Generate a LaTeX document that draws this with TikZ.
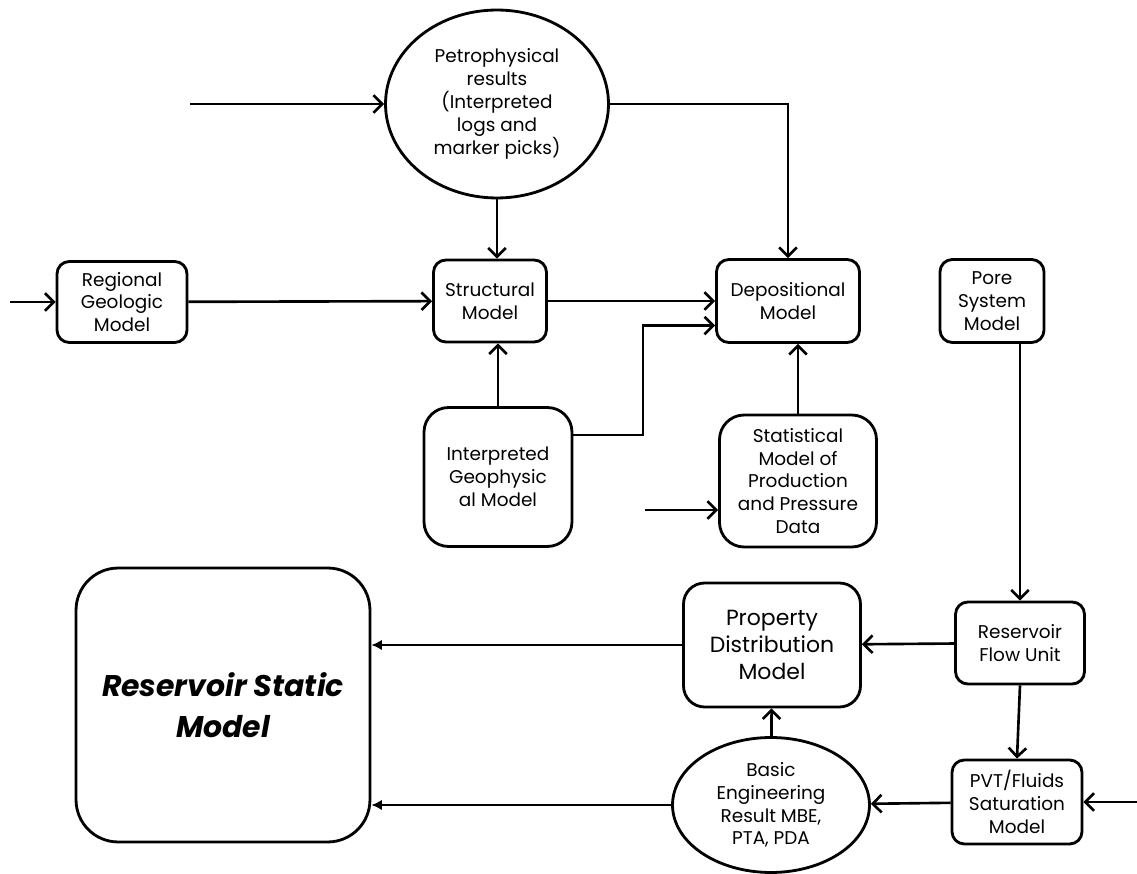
\documentclass[tikz,border=0pt]{standalone}
\usepackage{fontspec}
\setmainfont{Poppins}
\usepackage{tikz}
\usetikzlibrary{arrows.meta,positioning,calc,shapes.geometric}
\tikzset{
  box/.style={draw, rounded corners=7pt, line width=1.6pt, align=center, inner sep=0pt, font=\fontsize{10.5}{13}\selectfont},
  oval/.style={draw, ellipse, line width=1.6pt, align=center, inner sep=0pt, font=\fontsize{10.5}{13}\selectfont},
  line/.style={-{Straight Barb[length=5pt,width=10pt,line width=1.5pt]}, line width=1.5pt},
  fline/.style={-{Latex[length=6pt,width=6pt]}, line width=1.5pt}
}

\begin{document}
\begin{tikzpicture}[x=0.02cm, y=-0.02cm]
  \useasboundingbox (0,0) rectangle (1137,874);
  \node[oval, minimum width=4.46cm, minimum height=3.76cm] (petro) at (497,104) {Petrophysical\\results\\(Interpreted\\logs and\\marker picks)};
  \node[box, minimum width=2.6cm, minimum height=1.62cm] (reg) at (122,302) {Regional\\Geologic\\Model};
  \node[box, minimum width=2.26cm, minimum height=1.64cm] (struct) at (490,301) {Structural\\Model};
  \node[box, minimum width=2.86cm, minimum height=1.66cm] (dep) at (788,301) {Depositional\\Model};
  \node[box, minimum width=2.08cm, minimum height=1.66cm] (pore) at (992,301) {Pore\\System\\Model};
  \node[box, minimum width=2.96cm, minimum height=2.78cm, rounded corners=14pt] (geo) at (498,477) {Interpreted\\Geophysic\\al Model};
  \node[box, minimum width=3.14cm, minimum height=2.64cm, rounded corners=14pt] (stat) at (798,481) {Statistical\\Model of\\Production\\and Pressure\\Data};
  \node[box, minimum width=5.88cm, minimum height=5.48cm, rounded corners=24pt, font=\fontsize{17}{23}\selectfont\bfseries\itshape] (static) at (223,705) {Reservoir Static\\Model};
  \node[box, minimum width=3.54cm, minimum height=2.48cm, rounded corners=12pt, font=\fontsize{12.5}{15.5}\selectfont] (prop) at (772,645) {Property\\Distribution\\Model};
  \node[box, minimum width=2.58cm, minimum height=1.64cm] (flow) at (1020,643) {Reservoir\\Flow Unit};
  \node[oval, minimum width=3.94cm, minimum height=2.7cm] (basic) at (771,805) {Basic\\Engineering\\Result MBE,\\PTA, PDA};
  \node[box, minimum width=2.6cm, minimum height=1.68cm] (pvt) at (1017,802) {PVT/Fluids\\Saturation\\Model};
  % free ends and bends
  \coordinate (inPetro) at (190,104);
  \coordinate (inReg) at (10,302);
  \coordinate (inStat) at (645,510);
  \coordinate (inPVT) at (1137,802);
  \coordinate (bendGeo) at (643,435);
  \draw[line] (inPetro) -- (petro.west);
  \draw[line] (petro.east) -| (dep.north);
  \draw[line] (petro.south) -- (petro.south |- struct.north);
  \draw[line] (inReg) -- (reg.west);
  \draw[line] (reg) -- (struct);
  \draw[line] (struct) -- (dep);
  \draw[line] (geo.north) -- (geo.north |- struct.south);
  \draw[line] (geo.east |- bendGeo) -- (bendGeo) |- ([yshift=-14pt]dep.west);
  \draw[line] (stat.north) -- (stat.north |- dep.south);
  \draw[line] (inStat) -- (inStat -| stat.west);
  \draw[line] (flow.north |- pore.south) -- (flow.north);
  \draw[line] (flow) -- (prop);
  \draw[line] (flow.south) -- (pvt.north);
  \draw[line] (inPVT) -- (inPVT -| pvt.east);
  \draw[line] (pvt) -- (basic);
  \draw[line] (basic) -- (prop);
  \draw[fline] (prop.west) -- (prop.west -| static.east);
  \draw[fline] (basic.west) -- (basic.west -| static.east);
\end{tikzpicture}
\end{document}
